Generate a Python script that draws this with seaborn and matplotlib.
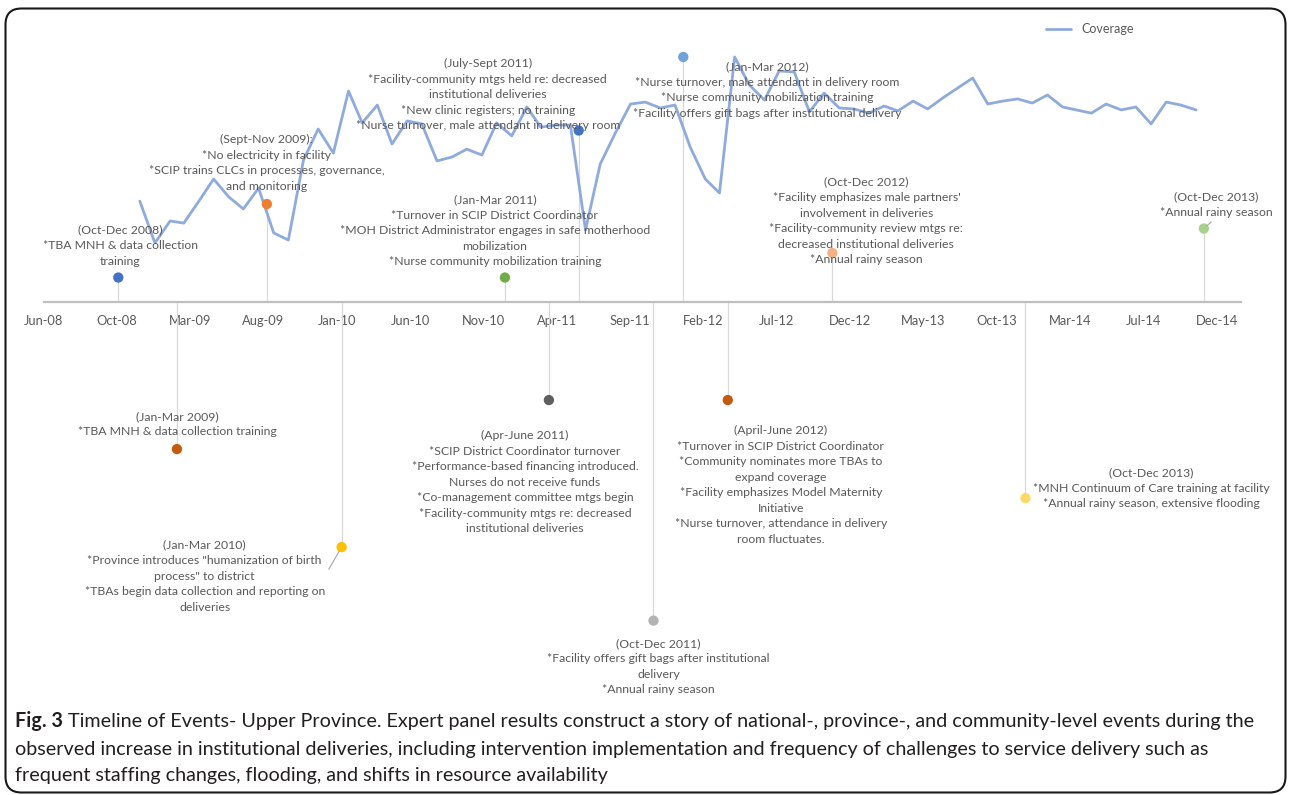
import numpy as np
import pandas as pd
import matplotlib
matplotlib.use('Agg')
import matplotlib.pyplot as plt
import matplotlib.dates as mdates
from matplotlib.patches import FancyBboxPatch
from matplotlib.transforms import IdentityTransform
import seaborn as sns

# ---------------------------------------------------------
# data
# ---------------------------------------------------------
# monthly coverage, Dec 2008 - Nov 2014 (plotted mid-month)
coverage_start = '2008-12-01'
coverage = [41.2, 24.1, 33.1, 32.2, 41.2, 50.2, 42.9, 38.0, 46.5, 28.2,
            25.3, 58.0, 70.6, 60.8, 86.1, 73.1, 80.4, 64.5, 73.9, 72.7,
            57.6, 59.2, 62.4, 60.0, 73.1, 67.8, 79.6, 71.4, 72.2, 72.2,
            29.4, 56.3, 69.0, 80.8, 81.6, 79.2, 80.4, 63.3, 50.2, 44.5,
            100.0, 88.6, 82.4, 94.3, 93.9, 77.6, 85.3, 79.2, 78.8, 77.1,
            80.0, 78.0, 82.0, 78.8, 83.3, 87.3, 91.4, 80.8, 82.0, 82.9,
            81.2, 84.5, 79.6, 78.4, 77.1, 80.8, 78.4, 79.6, 72.7, 81.6,
            80.4, 78.4]

# events on the timeline: date and height above/below the axis
event_dates = ['2008-11-01', '2009-03-01', '2009-09-01', '2010-02-01',
               '2011-01-01', '2011-04-01', '2011-06-01', '2011-11-01',
               '2012-01-01', '2012-04-01', '2012-11-01', '2013-12-01',
               '2014-12-01']
event_heights = [10, -60, 40, -100, 10, -40, 70, -130, 100, -40, 20, -80, 30]
event_labels = [
    "(Oct-Dec 2008)\n*TBA MNH & data collection\ntraining",
    "(Jan-Mar 2009)\n*TBA MNH & data collection training",
    "(Sept-Nov 2009):\n*No electricity in facility\n*SCIP trains CLCs in processes, governance,\nand monitoring",
    "(Jan-Mar 2010)\n*Province introduces \"humanization of birth\nprocess\" to district\n*TBAs begin data collection and reporting on\ndeliveries",
    "(Jan-Mar 2011)\n*Turnover in SCIP District Coordinator\n*MOH District Administrator engages in safe motherhood\nmobilization\n*Nurse community mobilization training",
    "(Apr-June 2011)\n*SCIP District Coordinator turnover\n*Performance-based financing introduced.\nNurses do not receive funds\n*Co-management committee mtgs begin\n*Facility-community mtgs re: decreased\ninstitutional deliveries",
    "(July-Sept 2011)\n*Facility-community mtgs held re: decreased\ninstitutional deliveries\n*New clinic registers; no training\n*Nurse turnover, male attendant in delivery room",
    "(Oct-Dec 2011)\n*Facility offers gift bags after institutional\ndelivery\n*Annual rainy season",
    "(Jan-Mar 2012)\n*Nurse turnover, male attendant in delivery room\n*Nurse community mobilization training\n*Facility offers gift bags after institutional delivery",
    "(April-June 2012)\n*Turnover in SCIP District Coordinator\n*Community nominates more TBAs to\nexpand coverage\n*Facility emphasizes Model Maternity\nInitiative\n*Nurse turnover, attendance in delivery\nroom fluctuates.",
    "(Oct-Dec 2012)\n*Facility emphasizes male partners'\ninvolvement in deliveries\n*Facility-community review mtgs re:\ndecreased institutional deliveries\n*Annual rainy season",
    "(Oct-Dec 2013)\n*MNH Continuum of Care training at facility\n*Annual rainy season, extensive flooding",
    "(Oct-Dec 2013)\n*Annual rainy season",
]

caption_bold = "Fig. 3"
caption_lines = [
    " Timeline of Events- Upper Province. Expert panel results construct a story of national-, province-, and community-level events during the",
    "observed increase in institutional deliveries, including intervention implementation and frequency of challenges to service delivery such as",
    "frequent staffing changes, flooding, and shifts in resource availability",
]

# ---------------------------------------------------------
# styling / layout
# ---------------------------------------------------------
event_colors = ['#4472C4', '#C55A11', '#ED7D31', '#FFC000', '#70AD47', '#5F5F5F',
                '#4472C4', '#B4B4B4', '#6FA3DB', '#C55A11', '#F4B183', '#FFD966',
                '#A9D18E']
# label offsets from the marker, in pixels (x right, y down)
label_offsets = [(2, -32), (0, -25), (0, -41), (-137, 29), (-10, -47), (-24, 82),
                 (-91, -36), (5, 46), (84, 33), (53, 85), (34, -32), (126, -10),
                 (12, -24)]
# leader lines: where on the label box the line starts
leader_lines = {3: (1.0, 0.5), 12: (0.5, 0.0)}

sns.set_theme(style='white')
plt.rcParams['font.family'] = ['Lato', 'DejaVu Sans']

W, H = 1292, 795
fig = plt.figure(figsize=(W / 100, H / 100), dpi=100, facecolor='white')
ax = fig.add_axes([43.5 / W, 95 / H, 1197.5 / W, 680 / H])
ax.set_facecolor('white')

cov_df = pd.DataFrame({
    'date': pd.date_range(coverage_start, periods=len(coverage), freq='MS') + pd.Timedelta(days=14),
    'Coverage': coverage,
})
ev_df = pd.DataFrame({
    'date': pd.to_datetime(event_dates),
    'height': event_heights,
    'event': range(len(event_dates)),
})

# drop lines from markers to the axis
ax.vlines(ev_df['date'], 0, ev_df['height'], color='#D9D9D9', lw=0.9, zorder=1)

sns.lineplot(data=cov_df, x='date', y='Coverage', color='#8FAADC', lw=2,
             label='Coverage', ax=ax, zorder=2)

sns.scatterplot(data=ev_df, x='date', y='height', hue='event', palette=event_colors,
                s=55, edgecolor='none', legend=False, ax=ax, zorder=4)

for i, (d, h, txt) in enumerate(zip(ev_df['date'], event_heights, event_labels)):
    dx, dy = label_offsets[i]
    kw = {}
    if i in leader_lines:
        kw['arrowprops'] = dict(arrowstyle='-', color='#A6A6A6', lw=0.8,
                                shrinkA=1, shrinkB=3, relpos=leader_lines[i])
    ax.annotate(txt, xy=(d, h), xytext=(dx, -dy), textcoords='offset pixels',
                ha='center', va='center', fontsize=8.8, color='#595959',
                linespacing=1.5, zorder=5, **kw)

# axes
ax.set_xlim(pd.Timestamp('2008-06-01'), pd.Timestamp('2015-02-15'))
ax.set_ylim(-162.4, 115.1)
ax.set_xticks(pd.date_range('2008-06-01', periods=17, freq='150D'))
ax.xaxis.set_major_formatter(mdates.DateFormatter('%b-%y'))
ax.tick_params(axis='x', length=0, pad=9, labelsize=9.3, labelcolor='#595959')
ax.set_yticks([])
ax.set_xlabel('')
ax.set_ylabel('')
for s in ['top', 'left', 'right']:
    ax.spines[s].set_visible(False)
ax.spines['bottom'].set_position(('data', 0))
ax.spines['bottom'].set_color('#BFBFBF')
ax.spines['bottom'].set_linewidth(1.6)
ax.spines['bottom'].set_zorder(1.5)

ax.legend(loc='center', bbox_to_anchor=(1090 / W, 1 - 29 / H), bbox_transform=fig.transFigure,
          frameon=False, fontsize=9, handlelength=2.0, labelcolor='#595959')

# caption
fig.canvas.draw()
cap_size = 14.2
t_bold = fig.text(15 / W, 1 - 721 / H, caption_bold, fontsize=cap_size, fontweight='bold',
                  color='#231F20', va='center', ha='left')
bb = t_bold.get_window_extent(fig.canvas.get_renderer())
fig.text(bb.x1 / W, 1 - 721 / H, caption_lines[0], fontsize=cap_size, color='#231F20',
         va='center', ha='left')
fig.text(15 / W, 1 - 749 / H, caption_lines[1], fontsize=cap_size, color='#231F20',
         va='center', ha='left')
fig.text(15 / W, 1 - 776 / H, caption_lines[2], fontsize=cap_size, color='#231F20',
         va='center', ha='left')

# rounded frame round chart and caption
frame = FancyBboxPatch((5.5, 2.5), 1280, 784, boxstyle='round,pad=0,rounding_size=16',
                       transform=IdentityTransform(), fill=False, edgecolor='#1A1A1A', lw=1.5)
fig.add_artist(frame)

fig.savefig('out.png', dpi=100, facecolor='white')
